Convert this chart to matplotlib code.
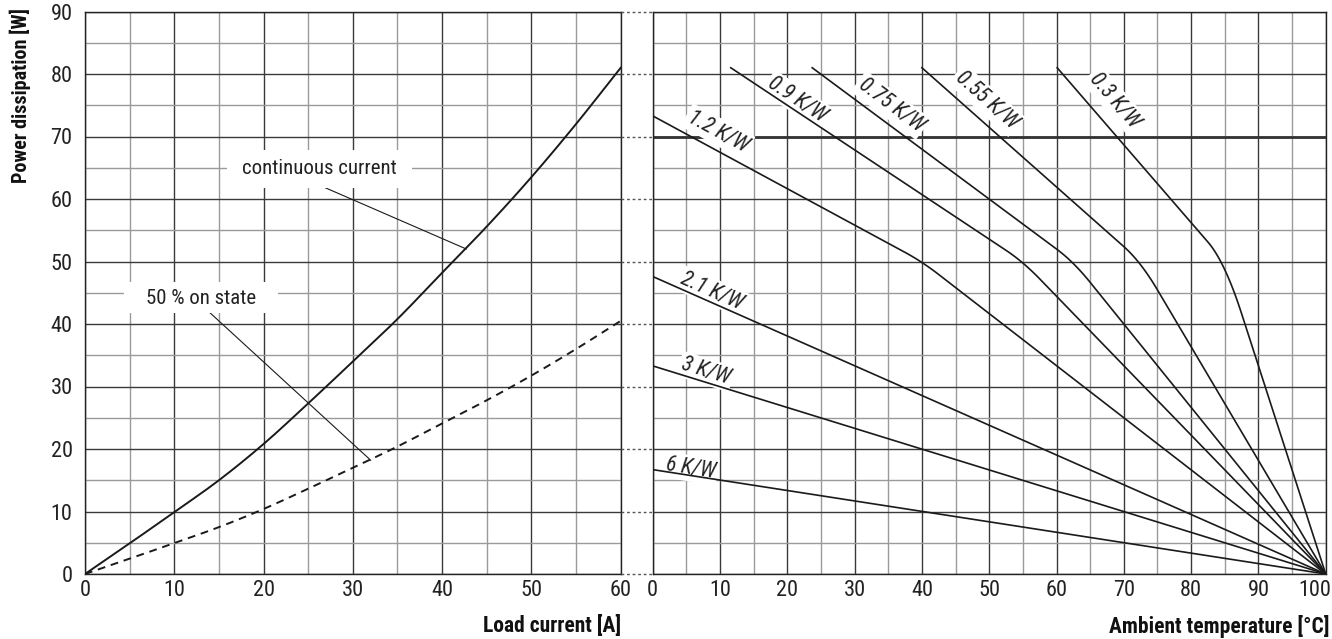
import numpy as np
import matplotlib
matplotlib.use("Agg")
import matplotlib.pyplot as plt
import matplotlib.transforms as mtransforms
from matplotlib.patches import Rectangle

plt.rcParams['font.family'] = ['Roboto Condensed', 'DejaVu Sans']

# ---------------- data ----------------
# left panel: power dissipation vs load current
load_current = [0, 5, 10, 15, 20, 25, 30, 35, 40, 45, 50, 55, 60]
power_continuous = [0, 4.9, 9.9, 15.0, 20.8, 27.3, 34.0, 40.8, 48.2, 55.6, 63.5, 72.0, 81.0]
power_half = [p / 2 for p in power_continuous]

# right panel: derating lines per heatsink thermal resistance
r_labels = ["0.3 K/W", "0.55 K/W", "0.75 K/W", "0.9 K/W", "1.2 K/W", "2.1 K/W", "3 K/W", "6 K/W"]
start_temp = [60.1, 40.0, 23.7, 11.6, 0.0, 0.0, 0.0, 0.0]
start_power = [81.0, 81.0, 81.0, 81.0, 73.3, 47.6, 33.3, 16.7]
knee_temp = [85.0, 72.5, 62.5, 55.0, 40.0, None, None, None]
knee_power = [50.0, 50.0, 50.0, 50.0, 50.0, None, None, None]
end_temp = 100.0
end_power = 0.0
label_pos = [(68.6, 75.8), (49.6, 75.8), (35.4, 75.0), (21.5, 75.8),
             (9.7, 70.8), (8.8, 45.2), (7.9, 32.4), (5.6, 16.9)]
power_limit = 70

left_ticks = [0, 10, 20, 30, 40, 50, 60]
right_ticks = [0, 10, 20, 30, 40, 50, 60, 70, 80, 90, 100]
y_ticks = [0, 10, 20, 30, 40, 50, 60, 70, 80, 90]

# ---------------- figure ----------------
fig = plt.figure(figsize=(13.32, 6.39), dpi=100)
axL = fig.add_axes([85 / 1332, 1 - 574 / 639, 535.7 / 1332, 562.5 / 639])
axR = fig.add_axes([652.7 / 1332, 1 - 574 / 639, 673 / 1332, 562.5 / 639])

major_c = '#3a3a3a'
minor_c = '#9a9a9a'
text_c = '#222222'

for ax, xmax, xt in ((axL, 60, left_ticks), (axR, 100, right_ticks)):
    ax.set_xlim(0, xmax)
    ax.set_ylim(0, 90)
    ax.set_xticks(xt)
    ax.set_yticks(y_ticks)
    ax.set_xticks(np.arange(5, xmax, 10), minor=True)
    ax.set_yticks(np.arange(5, 90, 10), minor=True)
    ax.grid(which='major', color=major_c, linewidth=1.0, zorder=0)
    ax.grid(which='minor', color=minor_c, linewidth=1.0, zorder=0)
    ax.set_axisbelow(True)
    ax.tick_params(which='both', length=0)
    ax.tick_params(axis='x', labelsize=16, pad=4, colors=text_c)
    ax.tick_params(axis='y', labelsize=16, pad=9, colors=text_c)
    for s in ax.spines.values():
        s.set_color('#222222')
        s.set_linewidth(1.0)

axR.tick_params(axis='y', labelleft=False)

# shift last tick label ("100") left so it stays on the canvas
fig.canvas.draw()
last = axR.get_xticklabels()[-1]
last.set_transform(last.get_transform() + mtransforms.ScaledTranslation(-11 / 100, 0, fig.dpi_scale_trans))

fig.text(20 / 1332, 1 - 8 / 639, "Power dissipation [W]", rotation=90, ha='center', va='top',
         fontsize=14.5, fontweight='bold', color='#111111')
axL.text(1.0, -0.073, "Load current [A]", transform=axL.transAxes, ha='right', va='top',
         fontsize=15.5, fontweight='bold', color='#111111')
axR.text(1.005, -0.073, "Ambient temperature [°C]", transform=axR.transAxes, ha='right', va='top',
         fontsize=15.5, fontweight='bold', color='#111111')

# dotted connectors across the gap
trans = mtransforms.blended_transform_factory(fig.transFigure, axL.transData)
for y in y_ticks:
    fig.add_artist(plt.Line2D([620.7 / 1332, 652.7 / 1332], [y, y], transform=trans,
                              color='#555555', linestyle=(0, (2, 2)), linewidth=1.0))


def smooth(x, y, n=12):
    """Catmull-Rom rendering through the given points."""
    x = np.asarray(x, float)
    y = np.asarray(y, float)
    P = np.column_stack([x, y])
    P = np.vstack([2 * P[0] - P[1], P, 2 * P[-1] - P[-2]])
    out = []
    t = np.linspace(0, 1, n, endpoint=False)[:, None]
    for i in range(1, len(P) - 2):
        p0, p1, p2, p3 = P[i - 1], P[i], P[i + 1], P[i + 2]
        seg = 0.5 * ((2 * p1) + (-p0 + p2) * t + (2 * p0 - 5 * p1 + 4 * p2 - p3) * t ** 2
                     + (-p0 + 3 * p1 - 3 * p2 + p3) * t ** 3)
        out.append(seg)
    out.append(P[-2][None, :])
    out = np.vstack(out)
    return out[:, 0], out[:, 1]


# ---------------- left panel ----------------
sx, sy = smooth(load_current, power_continuous)
axL.plot(sx, sy, color='#1a1a1a', linewidth=1.4, zorder=3)
hx, hy = smooth(load_current, power_half)
axL.plot(hx, hy, color='#1a1a1a', linewidth=1.4, linestyle=(0, (4, 3)), zorder=3)

axL.plot([22.4, 42.7], [64.6, 52.0], color='#1a1a1a', linewidth=0.8, zorder=2)
axL.plot([12.7, 32.0], [43.5, 18.2], color='#1a1a1a', linewidth=0.8, zorder=2)
axL.add_patch(Rectangle((15.9, 61.8), 20.7, 6.0, fc='white', ec='none', zorder=2.5))
axL.add_patch(Rectangle((4.4, 41.7), 17.2, 5.0, fc='white', ec='none', zorder=2.5))
axL.text(26.3, 64.8, "continuous current", ha='center', va='center', fontsize=15, color=text_c, zorder=4)
axL.text(13.0, 44.1, "50 % on state", ha='center', va='center', fontsize=15, color=text_c, zorder=4)

# ---------------- right panel ----------------
axR.axhline(power_limit, color='#333333', linewidth=2.0, zorder=1)


def rounded(p0, p1, p2, d=2.5, n=20):
    p0, p1, p2 = map(np.asarray, (p0, p1, p2))
    a = p1 + (p0 - p1) * d / (p1[0] - p0[0])
    b = p1 + (p2 - p1) * d / (p2[0] - p1[0])
    t = np.linspace(0, 1, n)[:, None]
    curve = (1 - t) ** 2 * a + 2 * (1 - t) * t * p1 + t ** 2 * b
    return np.vstack([p0, curve, p2])


for i, lab in enumerate(r_labels):
    p0 = (start_temp[i], start_power[i])
    p2 = (end_temp, end_power)
    if knee_temp[i] is not None:
        pts = rounded(p0, (knee_temp[i], knee_power[i]), p2)
        q1 = (knee_temp[i], knee_power[i])
    else:
        pts = np.array([p0, p2])
        q1 = p2
    axR.plot(pts[:, 0], pts[:, 1], color='#1a1a1a', linewidth=1.2, zorder=3)
    a = axR.transData.transform(p0)
    b = axR.transData.transform(q1)
    ang = np.degrees(np.arctan2(b[1] - a[1], b[0] - a[0]))
    axR.text(label_pos[i][0], label_pos[i][1], lab, rotation=ang, rotation_mode='anchor',
             ha='center', va='center', fontsize=15.5, style='italic', color=text_c, zorder=2.5,
             bbox=dict(boxstyle='square,pad=0.12', fc='white', ec='none'))

fig.savefig("out.png", dpi=100)
